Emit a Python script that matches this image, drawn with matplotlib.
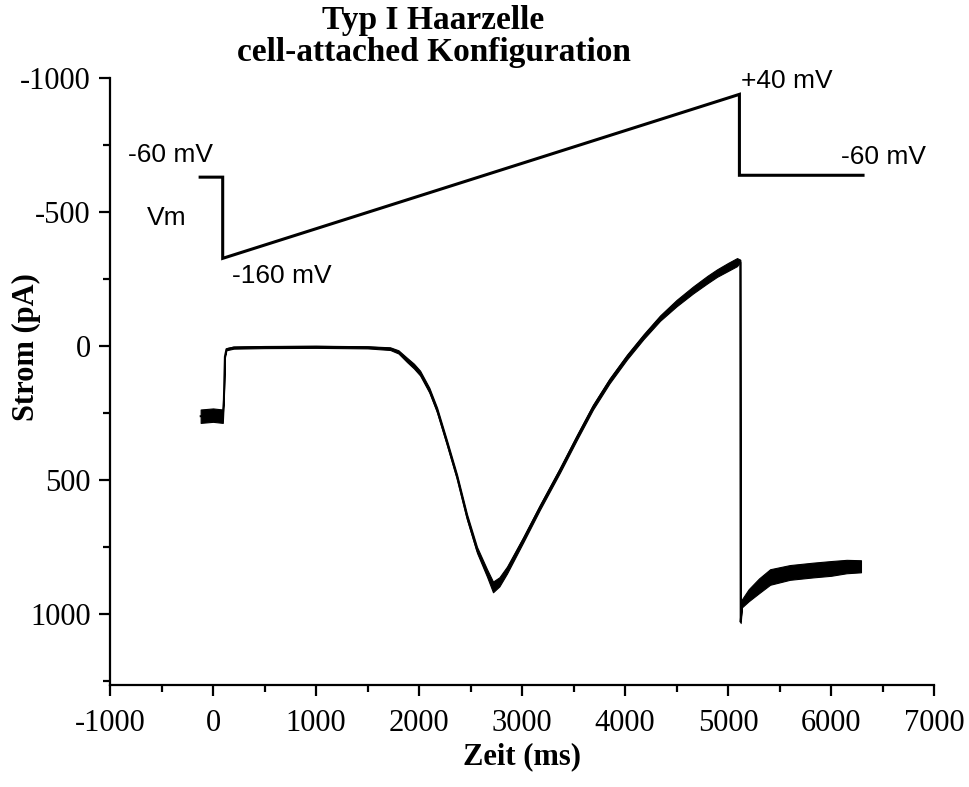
import matplotlib
matplotlib.use("Agg")
import matplotlib.pyplot as plt
from matplotlib.ticker import MultipleLocator
import numpy as np

plt.rcParams["font.family"] = ["Liberation Serif", "DejaVu Serif"]
plt.rcParams["axes.unicode_minus"] = False

# Membrane current trace (ms, pA); positive = inward, plotted downward
time_ms = [-120, 0, 95, 105, 115, 130, 200, 500, 1000, 1500, 1720, 1800, 1883,
           1950, 2010, 2100, 2175, 2272, 2369, 2466, 2563, 2660, 2718, 2780,
           2854, 3010, 3175, 3369, 3534, 3689, 3850, 4019, 4180, 4340, 4500,
           4660, 4800, 4893, 5000, 5087, 5118, 5122, 5135, 5200, 5300, 5408,
           5600, 5825, 6000, 6150, 6290]
current_pa = [262, 258, 262, 200, 40, 12, 6, 4, 3, 5, 10, 22, 52,
              75, 101, 165, 239, 362, 489, 638, 761, 847, 899, 880,
              836, 724, 601, 463, 340, 228, 130, 41, -35, -104, -160,
              -209, -248, -272, -295, -313, -318, 1030, 960, 930, 895, 862,
              845, 836, 830, 823, 822]
# Peak-to-peak width of the recording noise along the trace (pA)
noise_pp = [50, 50, 50, 8, 8, 8, 8, 8, 8, 8, 10, 12, 16,
            18, 18, 18, 18, 18, 18, 20, 22, 28, 40, 34,
            26, 20, 18, 18, 18, 18, 18, 18, 18, 20, 24,
            26, 28, 28, 30, 30, 8, 8, 30, 45, 55, 58,
            55, 55, 55, 50, 45]

# Command voltage protocol, drawn on the current scale
vm_time_ms = [-125, 94, 94, 5110, 5110, 6310]
vm_level = [-630, -630, -327, -939, -637, -637]

# Protocol annotations: (x in ms, y on current scale, text)
vm_labels = [(-830, -713, "-60 mV"),
             (-640, -478, "Vm"),
             (180, -261, "-160 mV"),
             (5130, -990, "+40 mV"),
             (6100, -705, "-60 mV")]

x_ticks = [-1000, 0, 1000, 2000, 3000, 4000, 5000, 6000, 7000]
y_ticks = [-1000, -500, 0, 500, 1000]

fig = plt.figure(figsize=(9.7, 7.87), dpi=100)
ax = fig.add_axes([0.1134, 0.1296, 0.8496, 0.7713])

t = np.array(time_ms, dtype=float)
i = np.array(current_pa, dtype=float)
w = np.array(noise_pp, dtype=float) / 2.0
ax.fill_between(t, i - w, i + w, color="black", linewidth=0.8,
                edgecolor="black")
ax.plot(t, i, color="black", linewidth=1.4)

ax.plot(vm_time_ms, vm_level, color="black", linewidth=2.2,
        solid_joinstyle="miter")

for x, y, s in vm_labels:
    ax.text(x, y, s, ha="left", va="center", fontsize=19,
            family=["Liberation Sans", "DejaVu Sans"])

ax.set_xlim(-1000, 7000)
ax.set_ylim(1265, -1000)
ax.set_xticks(x_ticks)
ax.set_yticks(y_ticks)
ax.xaxis.set_minor_locator(MultipleLocator(500))
ax.yaxis.set_minor_locator(MultipleLocator(250))

for side in ("top", "right"):
    ax.spines[side].set_visible(False)
for side in ("left", "bottom"):
    ax.spines[side].set_linewidth(1.6)

ax.tick_params(which="major", direction="out", length=8, width=1.6,
               labelsize=22)
ax.tick_params(axis="x", which="major", pad=9)
ax.tick_params(axis="y", which="major", pad=6)
ax.tick_params(which="minor", direction="out", length=5, width=1.6)

ax.set_xlabel("Zeit (ms)", fontsize=22, fontweight="bold", labelpad=3)
fig.text(0.027, 0.559, "Strom (pA)", rotation=90, ha="center", va="center",
         fontsize=22, fontweight="bold")

fig.text(0.447, 0.974, "Typ I Haarzelle", ha="center", va="center",
         fontsize=24, fontweight="bold")
fig.text(0.447, 0.933, "cell-attached Konfiguration", ha="center",
         va="center", fontsize=24, fontweight="bold")

fig.savefig("out.png", dpi=100)
